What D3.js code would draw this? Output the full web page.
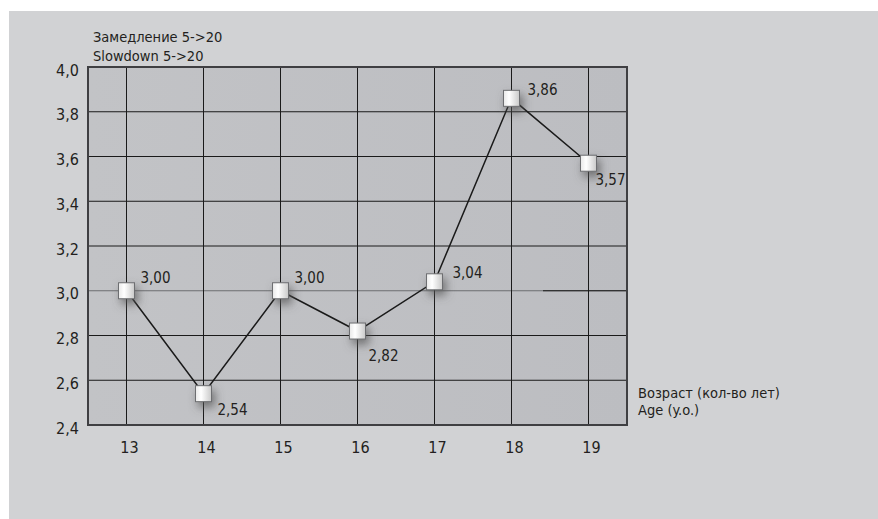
<!DOCTYPE html>
<html><head><meta charset="utf-8">
<script src="https://cdn.jsdelivr.net/npm/d3@7"></script>
<style>
html,body{margin:0;padding:0;background:#fff;}
text{font-family:"Liberation Sans Narrow","DejaVu Sans Condensed",sans-serif;fill:#231f20;}
text.val{font-family:"DejaVu Sans Condensed","DejaVu Sans",sans-serif;font-stretch:condensed;}
</style></head>
<body>
<svg id="c" width="878" height="519"></svg>
<script>
const ages = ["13","14","15","16","17","18","19"];
const slowdown = [3.00, 2.54, 3.00, 2.82, 3.04, 3.86, 3.57];
const valueLabels = ["3,00","2,54","3,00","2,82","3,04","3,86","3,57"];
const yTicks = [2.4, 2.6, 2.8, 3.0, 3.2, 3.4, 3.6, 3.8, 4.0];
const yTickLabels = ["2,4","2,6","2,8","3,0","3,2","3,4","3,6","3,8","4,0"];
const yTitle = ["Замедление 5->20", "Slowdown 5->20"];
const xTitle = ["Возраст (кол-во лет)", "Age (y.o.)"];
// label offsets relative to marker
const labelOffsets = [[14,-8],[14,21],[14,-8],[11,30],[18,-4],[16,-3],[7,22]];

const svg = d3.select("#c");
const W = 878, H = 519;
const m = {left: 88, right: 627, top: 67, bottom: 425};

svg.append("rect").attr("x",9).attr("y",11).attr("width",W-9).attr("height",H-11).attr("fill","#d1d2d4");

const defs = svg.append("defs");
const bg = defs.append("linearGradient").attr("id","bg").attr("x1","0").attr("x2","1").attr("y1","0").attr("y2","0");
bg.append("stop").attr("offset","0").attr("stop-color","#c2c3c6");
bg.append("stop").attr("offset","1").attr("stop-color","#bcbdc1");
const mg = defs.append("linearGradient").attr("id","mk").attr("x1","0").attr("x2","1").attr("y1","0").attr("y2","0");
mg.append("stop").attr("offset","0").attr("stop-color","#e8e8e8");
mg.append("stop").attr("offset","0.35").attr("stop-color","#ffffff");
mg.append("stop").attr("offset","1").attr("stop-color","#c9c9c9");
const f = defs.append("filter").attr("id","sh").attr("x","-100%").attr("y","-100%").attr("width","300%").attr("height","300%");
f.append("feDropShadow").attr("dx",3).attr("dy",5).attr("stdDeviation",5).attr("flood-color","#555").attr("flood-opacity",0.75);

const x = d3.scaleBand().domain(ages).range([m.left, m.right]);
const y = d3.scaleLinear().domain([2.4, 4.0]).range([m.bottom, m.top]);

svg.append("rect").attr("x",m.left).attr("y",m.top).attr("width",m.right-m.left).attr("height",m.bottom-m.top).attr("fill","url(#bg)");

// grid
const g = svg.append("g");
g.selectAll("line.h").data(yTicks.slice(1,-1)).join("line")
  .attr("x1",m.left).attr("x2",m.right).attr("y1",d=>y(d)).attr("y2",d=>y(d))
  .attr("stroke",d=>Math.abs(d-3.0)<1e-6?"#6d6e71":"#1a1a1a").attr("stroke-width",1);
// remaining dark portion of the 3.0 line
g.append("line").attr("x1",543).attr("x2",m.right).attr("y1",y(3.0)).attr("y2",y(3.0)).attr("stroke","#1a1a1a");
g.selectAll("line.v").data(ages).join("line")
  .attr("x1",d=>x(d)+x.bandwidth()/2).attr("x2",d=>x(d)+x.bandwidth()/2)
  .attr("y1",m.top).attr("y2",m.bottom).attr("stroke","#1a1a1a").attr("stroke-width",1);

// border
svg.append("rect").attr("x",m.left).attr("y",m.top).attr("width",m.right-m.left).attr("height",m.bottom-m.top)
  .attr("fill","none").attr("stroke","#3f3f42").attr("stroke-width",2);

// y axis labels
svg.append("g").selectAll("text").data(yTicks).join("text")
  .attr("x",79).attr("y",d=>y(d)+4).attr("text-anchor","end").attr("dominant-baseline","middle")
  .style("font-size","16px").text((d,i)=>yTickLabels[i]);

// x axis labels
svg.append("g").selectAll("text").data(ages).join("text")
  .attr("x",d=>x(d)+x.bandwidth()/2+3).attr("y",453).attr("text-anchor","middle")
  .style("font-size","16px").text(d=>d);

// titles
svg.append("g").selectAll("text").data(yTitle).join("text")
  .attr("x",93).attr("y",(d,i)=>42+i*19).style("font-size","14.5px").text(d=>d);
svg.append("g").selectAll("text").data(xTitle).join("text")
  .attr("x",638).attr("y",(d,i)=>398+i*17).style("font-size","14.5px").text(d=>d);

// line
const pts = ages.map((a,i)=>[x(a)+x.bandwidth()/2, y(slowdown[i])]);
svg.append("path").attr("d",d3.line()(pts)).attr("fill","none").attr("stroke","#1a1a1a").attr("stroke-width",1.5);

// markers
svg.append("g").selectAll("rect").data(pts).join("rect")
  .attr("x",d=>d[0]-8).attr("y",d=>d[1]-8).attr("width",16).attr("height",16)
  .attr("fill","url(#mk)").attr("stroke","#6d6e71").attr("stroke-width",1).attr("filter","url(#sh)");

// value labels
svg.append("g").selectAll("text").data(pts).join("text").attr("class","val")
  .attr("x",(d,i)=>d[0]+labelOffsets[i][0]).attr("y",(d,i)=>d[1]+labelOffsets[i][1])
  .style("font-size","15px").text((d,i)=>valueLabels[i]);
</script>
</body></html>
